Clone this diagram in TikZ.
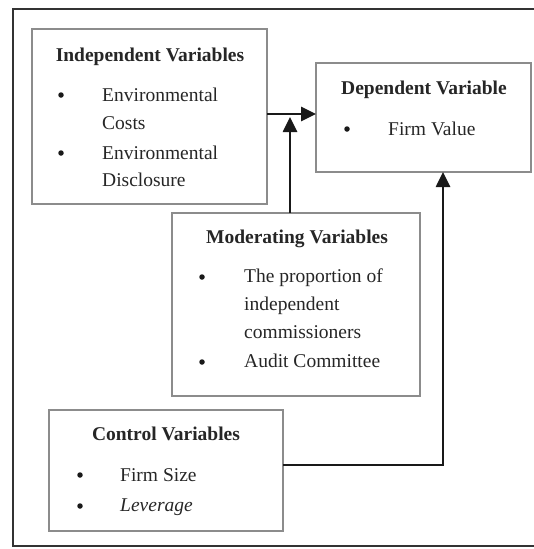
\documentclass[tikz,border=0pt]{standalone}
\usepackage{fontspec}
\setmainfont{Liberation Serif}
\usetikzlibrary{arrows.meta,positioning}

\tikzset{
  varbox/.style={draw=black!45,line width=1.4pt,anchor=north west,inner sep=0pt,outer sep=0pt},
  boxtitle/.style={anchor=base,inner sep=0pt,text=black!85,font=\bfseries\fontsize{19.5}{24}\selectfont},
  item/.style={anchor=base west,inner sep=0pt,text=black!85,font=\fontsize{19.5}{24}\selectfont},
  dot/.style={circle,fill=black!90,inner sep=0pt,minimum size=5.5pt},
  link/.style={line width=2.6pt,black!90,-{Triangle[length=15pt,width=14pt]}},
}

\begin{document}
\begin{tikzpicture}[x=1pt,y=-1pt]
\useasboundingbox (0,0) rectangle (534,549);
% outer frame, cut at the right
\draw[line width=2.6pt,black!80] (533.5,9) -- (13,9) -- (13,546) -- (533.5,546);

% boxes
\node[varbox,minimum width=235pt,minimum height=175pt] (indep) at (32,29) {};
\node[varbox,minimum width=215pt,minimum height=109pt] (dep) at (316,63) {};
\node[varbox,minimum width=248pt,minimum height=183pt] (mod) at (172,213) {};
\node[varbox,minimum width=234pt,minimum height=121pt] (ctrl) at (49,410) {};

% independent variables
\node[boxtitle] (indepT) at (150,61) {Independent Variables};
\node[dot] (indepD1) at (61,95) {};
\node[item] (indepA1) at (102,101) {Environmental};
\node[item] (indepA2) at (102,129) {Costs};
\node[dot] (indepD2) at (61,153) {};
\node[item] (indepB1) at (102,159) {Environmental};
\node[item] (indepB2) at (102,186) {Disclosure};

% dependent variable
\node[boxtitle] (depT) at (424,94) {Dependent Variable};
\node[dot] (depD1) at (347,129) {};
\node[item] (depA1) at (388,135) {Firm Value};

% moderating variables
\node[boxtitle] (modT) at (297,243) {Moderating Variables};
\node[dot] (modD1) at (202,277) {};
\node[item] (modA1) at (244,282) {The proportion of};
\node[item] (modA2) at (244,310) {independent};
\node[item] (modA3) at (244,338) {commissioners};
\node[dot] (modD2) at (202,362) {};
\node[item] (modB1) at (244,367) {Audit Committee};

% control variables
\node[boxtitle] (ctrlT) at (166,440) {Control Variables};
\node[dot] (ctrlD1) at (80,475) {};
\node[item] (ctrlA1) at (120,481) {Firm Size};
\node[dot] (ctrlD2) at (80,506) {};
\node[item] (ctrlB1) at (120,511) {\itshape Leverage};

% connectors
\coordinate (jn) at (290,114);
\coordinate (rc) at (443,465);
\draw[link] (indep.east |- jn) -- (dep.west |- jn);
\draw[link] (mod.north -| jn) -- ([yshift=-3pt]jn);
\draw[link] (ctrl.east |- rc) -- (rc) -- (dep.south -| rc);
\end{tikzpicture}
\end{document}
